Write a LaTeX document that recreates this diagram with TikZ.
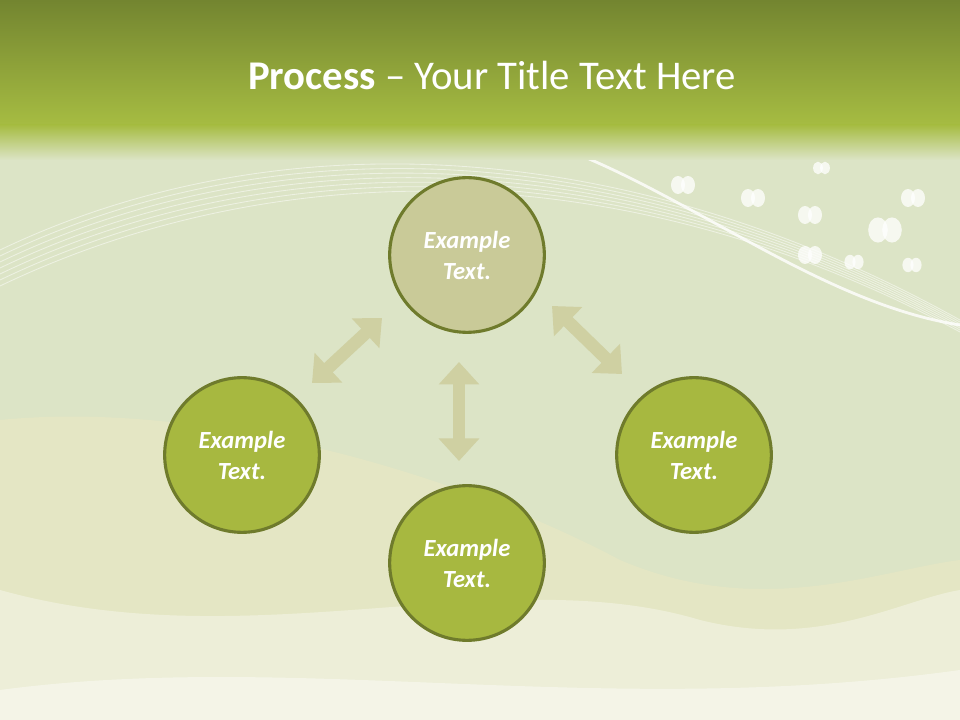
\documentclass[tikz,border=0pt]{standalone}
\usepackage{fontspec}
\setmainfont{Carlito}
\usetikzlibrary{arrows.meta}
\definecolor{bgc}{HTML}{DCE4C6}
\definecolor{topd}{HTML}{738530}
\definecolor{topl}{HTML}{A6BC42}
\definecolor{circg}{HTML}{A7B840}
\definecolor{circt}{HTML}{C9CA98}
\definecolor{circb}{HTML}{6F7B2C}
\definecolor{arr}{HTML}{CFD0A2}
\tikzset{
 proc/.style={circle,draw=circb,line width=2.2pt,minimum size=110pt,inner sep=0pt,align=center,text=white,font=\bfseries\itshape\fontsize{17.5}{22}\selectfont},
 dblarrow/.style={draw=arr,line width=9pt,{Triangle[width=28pt,length=16pt]}-{Triangle[width=28pt,length=16pt]}}
}
\begin{document}
\begin{tikzpicture}[x=0.025cm,y=-0.025cm]
\useasboundingbox (0,0) rectangle (960,720);
\fill[bgc] (0,0) rectangle (960,720);
% lower waves
\fill[color=white!50!yellow!12!bgc] (0,420) .. controls (200,400) and (450,470) .. (620,560) .. controls (760,620) and (880,570) .. (960,560) -- (960,720) -- (0,720) -- cycle;
\fill[white,opacity=0.35] (0,590) .. controls (250,660) and (500,560) .. (700,620) .. controls (820,650) and (900,600) .. (960,590) -- (960,720) -- (0,720) -- cycle;
\fill[white,opacity=0.4] (0,690) .. controls (300,650) and (600,720) .. (960,670) -- (960,720) -- (0,720) -- cycle;
% white swoosh lines
\foreach \d in {0,6,...,36}{
 \draw[white,opacity=0.5,line width=0.6pt] (0,250+\d) .. controls (250,130+\d) and (600,120+\d/2) .. (960,320+\d/3);
}
\draw[white,opacity=0.8,line width=2pt] (500,130) .. controls (650,160) and (800,300) .. (960,325);
% butterflies
\foreach \x/\y/\s in {678/185/1,748/198/1,805/215/1,878/230/1.4,908/198/1,818/168/0.7,805/255/1,850/262/0.8,908/265/0.8}{
 \fill[white,opacity=0.75] (\x,\y) ellipse ({7*\s} and {9*\s});
 \fill[white,opacity=0.75] (\x+10*\s,\y) ellipse ({7*\s} and {9*\s});
}
% title bar
\shade[top color=topd,bottom color=topl] (0,0) rectangle (960,125);
\shade[top color=topl,bottom color=bgc] (0,125) rectangle (960,160);
\node[text=white,font=\fontsize{29}{34}\selectfont] (title) at (492,75) {\textbf{Process} – Your Title Text Here};
% circles
\node[proc,fill=circt] (top) at (467,255) {Example\\Text.};
\node[proc,fill=circg] (left) at (242,455) {Example\\Text.};
\node[proc,fill=circg] (right) at (694,455) {Example\\Text.};
\node[proc,fill=circg] (bot) at (467,563) {Example\\Text.};
% arrows
\coordinate (a1) at (312,383); \coordinate (a2) at (382,318);
\coordinate (b1) at (552,306); \coordinate (b2) at (622,374);
\coordinate (c1) at (459,362); \coordinate (c2) at (459,461);
\draw[dblarrow] (a1) -- (a2);
\draw[dblarrow] (b1) -- (b2);
\draw[dblarrow] (c1) -- (c2);
\end{tikzpicture}
\end{document}
